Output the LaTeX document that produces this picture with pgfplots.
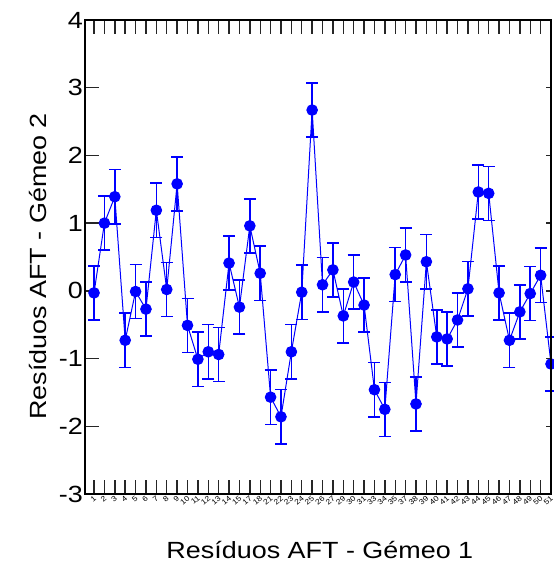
\documentclass[border=0pt]{standalone}
\usepackage{fontspec}
\setmainfont[FakeStretch=1.15]{Liberation Sans}
\usepackage{pgfplots}
\pgfplotsset{compat=1.18}
\usepackage{pgfplotstable}
\pgfplotstableread{
x y e
1 -0.03 0.4
2 1.00 0.4
3 1.39 0.4
4 -0.73 0.4
5 -0.01 0.4
6 -0.27 0.4
7 1.19 0.4
8 0.02 0.4
9 1.58 0.4
10 -0.51 0.4
11 -1.01 0.4
12 -0.90 0.4
13 -0.94 0.4
14 0.41 0.4
15 -0.24 0.4
16 0.96 0.4
17 0.26 0.4
18 -1.57 0.4
19 -1.86 0.4
20 -0.90 0.4
21 -0.02 0.4
22 2.67 0.4
23 0.09 0.4
24 0.31 0.4
25 -0.37 0.4
26 0.13 0.4
27 -0.21 0.4
28 -1.46 0.4
29 -1.75 0.4
30 0.24 0.4
31 0.53 0.4
32 -1.67 0.4
33 0.43 0.4
34 -0.68 0.4
35 -0.71 0.4
36 -0.43 0.4
37 0.03 0.4
38 1.46 0.4
39 1.44 0.4
40 -0.03 0.4
41 -0.73 0.4
42 -0.31 0.4
43 -0.04 0.4
44 0.23 0.4
45 -1.08 0.4
}\resid
\begin{document}
\begin{tikzpicture}
\begin{axis}[name=ax, scale only axis, width=466bp, height=474bp,
 xmin=0.13, xmax=45, ymin=-3, ymax=4,
 ytick={-3,-2,-1,0,1,2,3,4}, ytick pos=left, xtick pos=both,
 xtick={1,...,45},
 xticklabels={1,2,3,4,5,6,7,8,9,10,11,12,13,14,15,17,18,21,22,23,24,25,26,27,29,30,31,33,34,35,37,38,39,40,41,42,43,44,45,46,47,48,49,50,51},
 tick align=inside,
 major tick length=14bp,
 every tick/.style={black!85, line width=1.4bp},
 axis line style={line width=1.3bp},
 xticklabel style={font=\fontsize{7.5}{8}\selectfont, rotate=40, anchor=east, inner sep=1bp, yshift=-3bp},
 yticklabel style={font=\fontsize{23.5}{26}\selectfont, inner sep=2bp},
 /pgf/number format/assume math mode=true,
 label style={font=\fontsize{23.5}{26}\selectfont},
 xlabel={Resíduos AFT - Gémeo 1}, ylabel={Resíduos AFT - Gémeo 2},
 xlabel style={at={(axis description cs:0.504,-0.118)}, anchor=center},
 ylabel style={at={(axis description cs:-0.101,0.48)}, anchor=center},
 clip=false]
\addplot[blue, line width=1bp, mark=*, mark size=5.3bp, mark options={solid, fill=blue},
  error bars/.cd, y dir=both, y explicit,
  error bar style={line width=1.5bp, blue},
  error mark options={rotate=90, mark size=6bp, line width=1.5bp, blue}]
  table[x=x, y=y, y error=e] {\resid};
\end{axis}
\begin{axis}[scale only axis, width=466bp, height=474bp,
 xmin=0.13, xmax=45, ymin=-3, ymax=4,
 axis y line*=right, axis x line=none,
 ytick={-2,-1,0,1,2,3}, yticklabels={},
 tick align=inside, major tick length=5bp,
 every tick/.style={black!85, line width=1.4bp},
 axis line style={line width=1.3bp}]
\end{axis}
\pgfresetboundingbox
\path ([shift={(-85bp,-69bp)}]ax.south west) rectangle ([shift={(2bp,20bp)}]ax.north east);
\end{tikzpicture}
\end{document}
